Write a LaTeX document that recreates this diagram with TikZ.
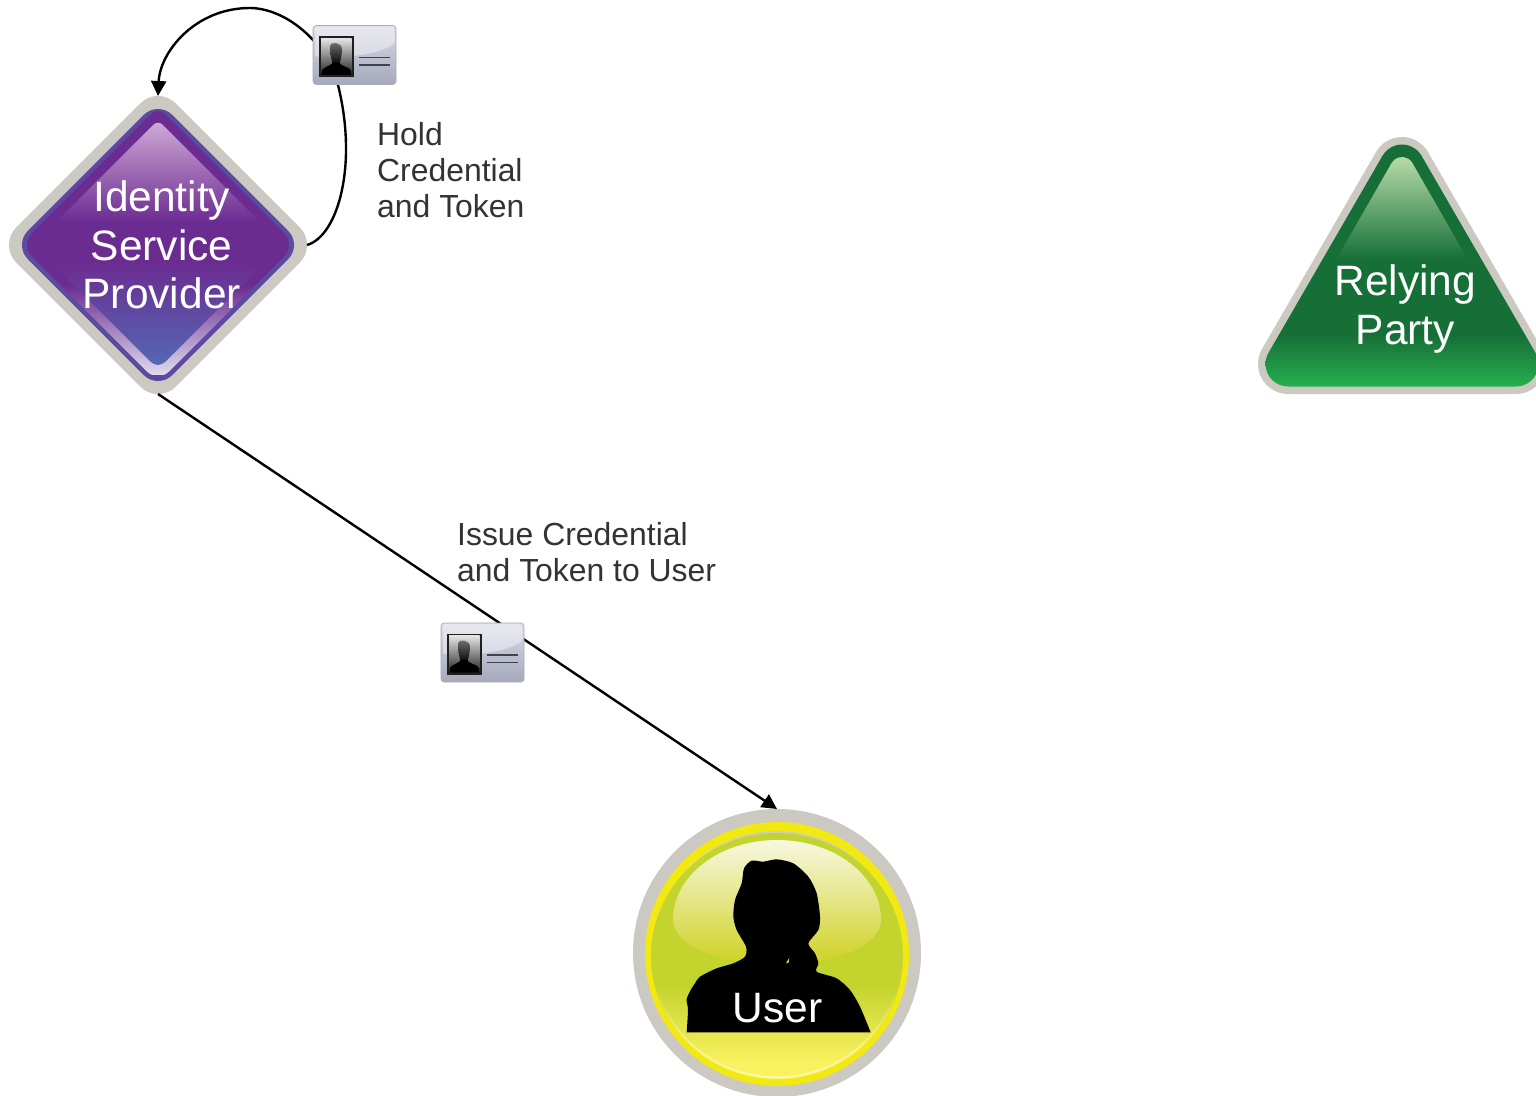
\documentclass[tikz,border=0pt]{standalone}
\usepackage{fontspec}
\setmainfont{Liberation Sans}
\usetikzlibrary{arrows.meta,shapes.geometric}
\definecolor{rimgrey}{HTML}{CCC9C2}
\definecolor{ispblue}{HTML}{5B4A9F}
\definecolor{isppurple}{HTML}{6B2C91}
\definecolor{isplow}{HTML}{5468B4}
\definecolor{isplilac}{HTML}{CFA8D6}
\definecolor{ispstrip}{HTML}{DDDAEE}
\definecolor{rpdark}{HTML}{166F37}
\definecolor{rplow}{HTML}{27B14F}
\definecolor{rpglow}{HTML}{B8DDAB}
\definecolor{useryellow}{HTML}{F2E912}
\definecolor{userlime}{HTML}{C3D42E}
\definecolor{userlow}{HTML}{F9F160}
\definecolor{userglow}{HTML}{F8F8E0}
\definecolor{userglowlow}{HTML}{CFD122}
\definecolor{usercrescent}{HTML}{D0CEB4}
\definecolor{userpale}{HTML}{FBF8A8}
\definecolor{labelgrey}{HTML}{333333}
\definecolor{cardtop}{HTML}{DADBE6}
\definecolor{cardlow}{HTML}{A5A9BB}
\definecolor{cardedge}{HTML}{A9ACBA}
\definecolor{cardgloss}{HTML}{F4F4F8}
\definecolor{cardline}{HTML}{3F4350}
\newcommand{\dmnd}[2]{({158-#2/2},{245+#1-#2/2}) -- (158,{245+#1-#2}) -- ({158+#2},{245+#1}) -- (158,{245+#1+#2}) -- ({158-#2},{245+#1}) -- cycle}
% rounded triangle: arc centres at y #1 (top) and y #3 (base), half spread #2, radius #4
\newcommand{\rtri}[4]{({1402-.866*#4},{#1-.5*#4}) arc[start angle=210,end angle=330,radius=#4] -- ({1402+#2+.866*#4},{#3-.5*#4}) arc[start angle=-30,end angle=90,radius=#4] -- ({1402-#2},{#3+#4}) arc[start angle=90,end angle=210,radius=#4] -- cycle}
\tikzset{
  flowline/.style={line width=2.4pt,draw=black,-{Triangle[length=15pt,width=15pt]}},
  onwhite/.style={text=white,align=center,inner sep=0pt,font=\fontsize{42.5}{48.7}\selectfont},
  caption/.style={text=labelgrey,align=left,inner sep=0pt,anchor=west,font=\fontsize{31.9}{36}\selectfont},
  anchorshape/.style={inner sep=0pt,outer sep=0pt,draw=none,fill=none},
  idcard/.pic={
    \shade[top color=cardtop,bottom color=cardlow,rounded corners=3pt,draw=cardedge,line width=.6pt] (0,0) rectangle (83,59);
    \fill[cardgloss,opacity=.5,rounded corners=2pt] (2,1) -- (81,1) -- (82,17) .. controls (72,25) and (55,29) .. (36,31) -- (2,31) -- cycle;
    \fill[black!88] (6,10.5) rectangle (40.5,51.5);
    \shade[top color=black!10,middle color=black!45,bottom color=black!85] (8,12.5) rectangle (38.5,49.5);
    \shade[top color=black!55,bottom color=black] (17,20.5) .. controls (17,16) and (29,16) .. (29,24) .. controls (29,31) and (27,36) .. (26,40) -- (20,40) .. controls (19,36) and (17,30) .. (17,20.5) -- cycle;
    \fill[black] (8.5,49.5) -- (9,45) .. controls (11,41) and (17,41) .. (20,37) -- (26,37) .. controls (28,41) and (36,41) .. (38,45) -- (38,49.5) -- cycle;
    \draw[cardline,line width=1.6pt] (46,32) -- (77,32);
    \draw[cardline,line width=1.2pt] (46,39.5) -- (77,39.5);
  }
}
\begin{document}
\begin{tikzpicture}[x=1pt,y=-1pt]
\useasboundingbox (0,0) rectangle (1536,1095);
\clip (0,0) rectangle (1536,1095);
\fill[white] (0,0) rectangle (1536,1095);

% Identity Service Provider
\fill[rimgrey,rounded corners=25pt] \dmnd{0}{159.4};
\fill[ispblue,rounded corners=20pt] \dmnd{0}{144.3};
\begin{scope}
  \clip[rounded corners=16pt] \dmnd{0}{137.6};
  \fill[isppurple] (0,100) rectangle (316,285);
  \shade[top color=isppurple,bottom color=ispstrip] (0,285) rectangle (316,374);
\end{scope}
\begin{scope}
  \clip[rounded corners=10pt] \dmnd{-7}{131};
  \fill[isppurple] (0,100) rectangle (316,262);
  \shade[top color=isppurple,bottom color=isplow] (0,262) rectangle (316,366);
\end{scope}
\begin{scope}
  \clip[rounded corners=7pt] \dmnd{0}{125};
  \shade[top color=isplilac,bottom color=isppurple] (0,122) rectangle (316,222);
\end{scope}
\node[diamond,anchorshape,minimum width=298pt,minimum height=298pt] (isp) at (158,245) {};
\node[onwhite] (isplabel) at (161.7,245) {Identity\\Service\\Provider};

% Relying Party
\fill[rimgrey] \rtri{167}{114}{364}{30};
\begin{scope}
  \clip \rtri{167}{114}{364}{22.5};
  \fill[rpdark] (1240,100) rectangle (1560,335);
  \shade[top color=rpdark,bottom color=rplow] (1240,335) rectangle (1560,388);
\end{scope}
\shade[top color=rpglow,bottom color=rpdark] (1391.6,163) arc[start angle=210,end angle=330,radius=12] -- (1468,260) -- (1336,260) -- cycle;
\node[onwhite] (rplabel) at (1405.3,309) {Relying\\Party};

% User
\fill[rimgrey] (777,953) circle [radius=144];
\fill[useryellow] (777,954) circle [radius=132];
\begin{scope}
  \clip (640,820) rectangle (915,900);
  \fill[usercrescent] (777,955) ellipse [x radius=124,y radius=124];
\end{scope}
\begin{scope}
  \clip (777,956) ellipse [x radius=126,y radius=123];
  \fill[userlime] (640,820) rectangle (915,985);
  \shade[top color=userlime,bottom color=userlow] (640,985) rectangle (915,1062);
  \fill[userlow] (640,1062) rectangle (915,1090);
\end{scope}
\foreach \a in {15,20,...,160} {
  \pgfmathsetmacro{\fadeval}{max(0,1-(abs(\a+2.5-90)/75)^1.5)}
  \draw[userpale,opacity=\fadeval,line width=2.2pt]
    ({777+124.5*cos(\a)},{956+121.5*sin(\a)}) arc[start angle=\a,delta angle=5,x radius=124.5,y radius=121.5];
}
\shade[top color=userglow,bottom color=userglowlow] (673,920) arc[start angle=180,end angle=360,x radius=104,y radius=80] arc[start angle=0,end angle=180,x radius=104,y radius=45] -- cycle;
\begin{scope}[xshift=620pt,yshift=-790pt,x=.33333pt,y=-.33333pt]
  \fill[black] plot[smooth,tension=.45] coordinates {(200,727) (204,660) (200,628) (212,600) (225,580) (240,560) (290,535) (340,520) (375,500) (378,470) (350,420) (340,380) (345,330) (365,280) (372,235) (395,212) (430,215) (470,208) (520,220) (565,260) (590,310) (600,380) (595,420) (565,460) (585,490) (595,520) (590,545) (650,565) (690,600) (720,650) (752,727)} -- cycle;
  \fill[userlime] (498,520) -- (508,503) -- (506,518) -- cycle;
\end{scope}
\node[circle,anchorshape,minimum size=288pt] (user) at (777,953) {};
\node[onwhite] (userlabel) at (777.5,1008) {User};

% Connectors
\draw[flowline] (isp.east) .. controls (338,236) and (358,165) .. (338,85) .. controls (333,70) and (325,52) .. (313,40) .. controls (290,15) and (265,8) .. (250,8) .. controls (195,8) and (160,52) .. (isp.north);
\draw[flowline] (isp.south) -- (user.north);

% Cards on the connectors
\pic at (313,25.5) {idcard};
\pic at (441,623) {idcard};

% Captions
\node[caption] (holdlabel) at (377,170) {Hold\\Credential\\and Token};
\node[caption] (issuelabel) at (457,552) {Issue Credential\\and Token to User};
\end{tikzpicture}
\end{document}
